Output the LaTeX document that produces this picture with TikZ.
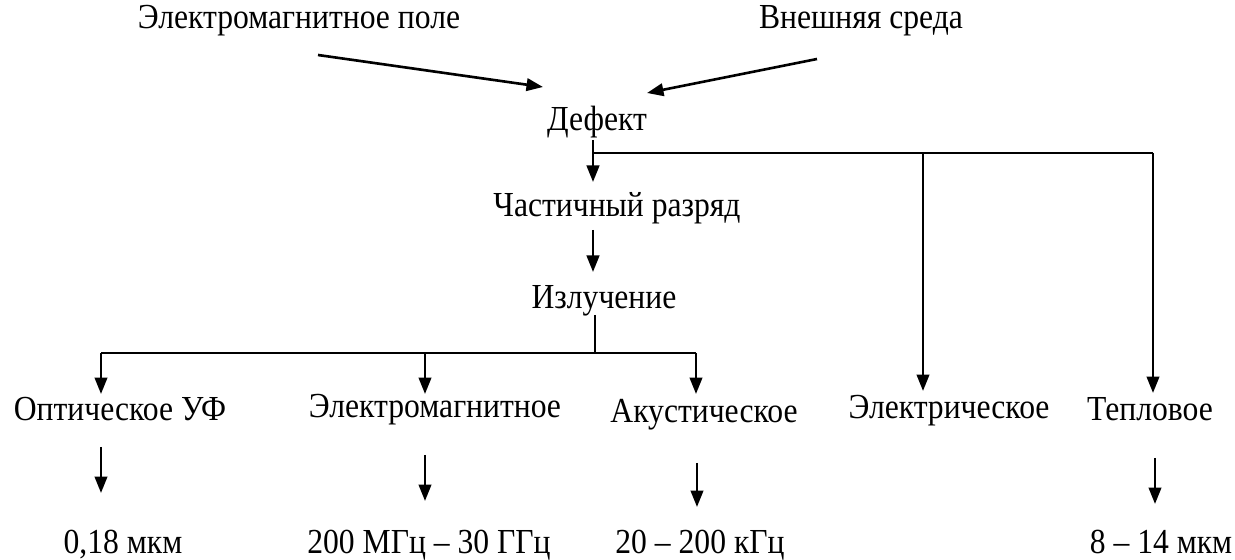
\documentclass[tikz,border=0pt]{standalone}
\usepackage{fontspec}
\setmainfont{Liberation Serif}[FakeStretch=0.9]
\usepackage{tikz}
\usetikzlibrary{arrows.meta, positioning, calc}
\tikzset{%
	lbl/.style={inner sep=0pt, anchor=base, font=\rmfamily\fontsize{20}{22}\selectfont},
	connector/.style={line width=1.5pt},
	sel/.style={line width=1.5pt, -{Triangle[length=3.3mm, width=2.5mm]}}
}

\begin{document}
\begin{tikzpicture}[x=0.02cm, y=-0.02cm]
		\useasboundingbox (0,0) rectangle (1235,560);
		% top
		\node[lbl] (emf) at (299,29) {Электромагнитное поле};
		\node[lbl] (env) at (861,29) {Внешняя среда};
		\node[lbl] (def) at (597,131) {Дефект};
		\node[lbl] (pd)  at (617,217) {Частичный разряд};
		\node[lbl] (rad) at (604,309) {Излучение};
		% kinds of emission
		\node[lbl] (opt)  at (120,421) {Оптическое УФ};
		\node[lbl] (em)   at (435,418) {Электромагнитное};
		\node[lbl] (ac)   at (704,423) {Акустическое};
		\node[lbl] (el)   at (949,419) {Электрическое};
		\node[lbl] (heat) at (1150,421) {Тепловое};
		% ranges
		\node[lbl] (opt-r)  at (123,554) {0,18 мкм};
		\node[lbl] (em-r)   at (429,554) {200 МГц – 30 ГГц};
		\node[lbl] (ac-r)   at (700,554) {20 – 200 кГц};
		\node[lbl] (heat-r) at (1161,554) {8 – 14 мкм};

		\coordinate (emf-out) at (318,55);
		\coordinate (env-out) at (817,59);
		\coordinate (def-l) at (543,87);
		\coordinate (def-r) at (647,93);
		\coordinate (def-out) at (593,140);
		\coordinate (def-bus) at (593,153);
		\coordinate (pd-in) at (593,182);
		\coordinate (pd-out) at (593,230);
		\coordinate (rad-in) at (593,272);
		\coordinate (rad-out) at (595,315);
		\coordinate (rad-bus) at (595,353);

		\draw [sel] (emf-out) to (def-l);
		\draw [sel] (env-out) to (def-r);
		\draw [sel] (def-out) to (pd-in);
		\draw [connector] (def-bus) -- (1153,153);
		\draw [sel] (923,153) -- (923,391);
		\draw [sel] (1153,153) -- (1153,393);
		\draw [sel] (pd-out) to (rad-in);
		\draw [connector] (rad-out) -- (rad-bus);
		\draw [connector] (101,353) -- (696,353);
		\draw [sel] (101,353) -- (101,394);
		\draw [sel] (425,353) -- (425,394);
		\draw [sel] (696,353) -- (696,394);
		\draw [sel] (101,447) -- (101,493);
		\draw [sel] (425,455) -- (425,501);
		\draw [sel] (697,463) -- (697,507);
		\draw [sel] (1155,458) -- (1155,504);

	\end{tikzpicture}
\end{document}
